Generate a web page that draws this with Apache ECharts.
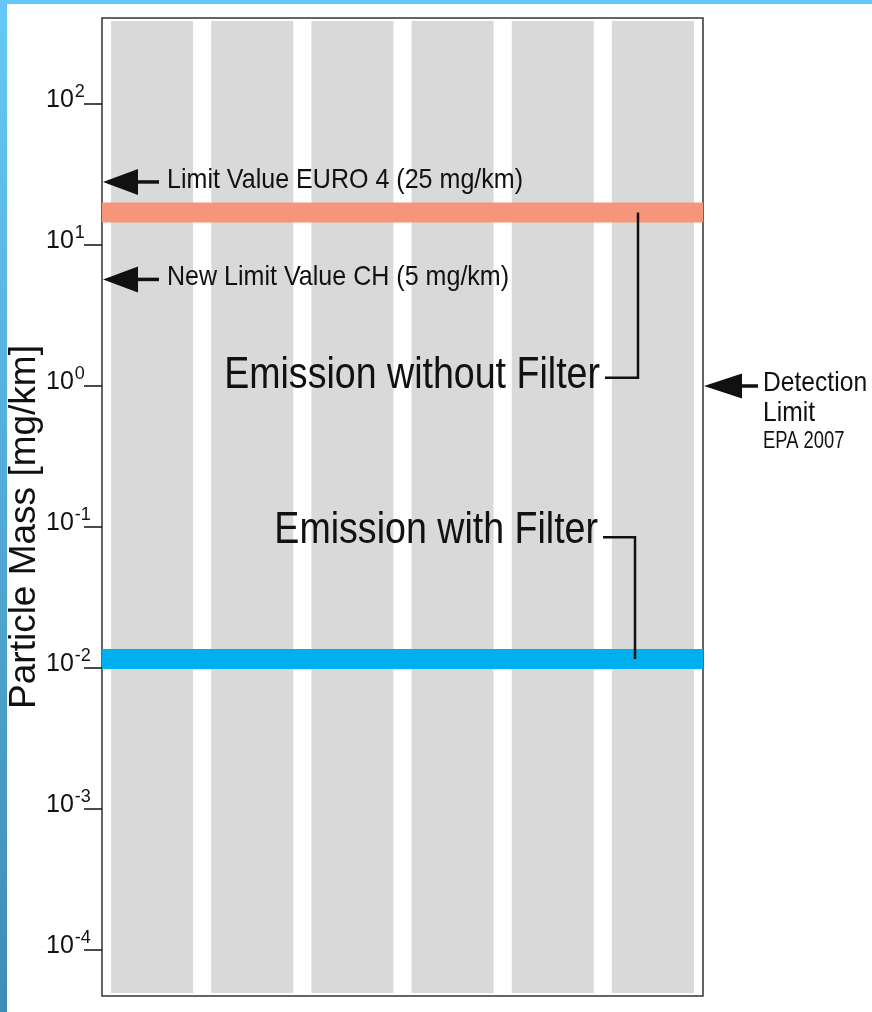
<!DOCTYPE html>
<html>
<head>
<meta charset="utf-8">
<title>Particle Mass</title>
<script src="https://cdn.jsdelivr.net/npm/echarts@6/dist/echarts.min.js"></script>
<style>
  html, body { margin: 0; padding: 0; background: #fff; }
  #wrap { position: relative; width: 872px; height: 1012px; overflow: hidden; }
  #topbar { position: absolute; left: 0; top: 0; width: 872px; height: 4px; background: #66c8f8; }
  #sidebar { position: absolute; left: 0; top: 0; width: 7px; height: 1012px; background: linear-gradient(#66c8f8, #3f8cb5); }
  #chart { position: absolute; left: 0; top: 0; width: 872px; height: 1012px; }
</style>
</head>
<body>
<div id="wrap">
  <div id="chart"></div>
  <div id="topbar"></div>
  <div id="sidebar"></div>
</div>
<script>
// columns (no labels in the original), each stripe spans the full height
const columns = ['1', '2', '3', '4', '5', '6']
const stripeHeight = [1, 1, 1, 1, 1, 1]

// emission levels, mg/km
const withoutFilter = [17, 17, 17, 17, 17, 17]
const withFilter = [0.0116, 0.0116, 0.0116, 0.0116, 0.0116, 0.0116]

// limit values marked with arrows, mg/km
const limitEuro4 = 28
const limitCH = 5.7
const detectionLimit = 1

// where the two emission captions sit, mg/km
const captionWithout = 1.18
const captionWith = 0.095

const tickMin = 1e-4
const tickMax = 1e2

const FONT = '"Liberation Sans", Arial, sans-serif'
const INK = '#111'

const chart = echarts.init(document.getElementById('chart'))

chart.setOption({
  backgroundColor: 'transparent',
  animation: false,
  grid: [
    { left: 102, right: 169, top: 18, bottom: 16, outerBoundsMode: 'none', show: true, borderColor: '#333', borderWidth: 1.5, backgroundColor: '#fff' },
    { left: 102, right: 169, top: 104, bottom: 62, outerBoundsMode: 'none' }
  ],
  xAxis: [
    { type: 'category', gridIndex: 0, data: columns, show: false },
    { type: 'category', gridIndex: 1, data: columns, show: false, boundaryGap: false }
  ],
  yAxis: [
    { type: 'value', gridIndex: 0, min: -0.003, max: 1.003, show: false },
    {
      type: 'log',
      gridIndex: 1,
      logBase: 10,
      min: tickMin,
      max: tickMax,
      splitNumber: 6,
      name: 'Particle Mass [mg/km]',
      nameLocation: 'middle',
      nameGap: 59,
      nameMoveOverlap: false,
      nameTextStyle: { fontFamily: FONT, fontSize: 37, color: INK },
      axisLine: { show: false },
      axisTick: { show: true, length: 18, lineStyle: { color: INK, width: 1.5 } },
      splitLine: { show: false },
      axisLabel: {
        margin: 56,
        align: 'left',
        formatter: function (v) {
          return '{b|10}{s|' + Math.round(Math.log10(v)) + '}'
        },
        rich: {
          b: { fontFamily: FONT, fontSize: 25, color: INK, verticalAlign: 'bottom', padding: [0, 0, 12, 0] },
          s: { fontFamily: FONT, fontSize: 18, color: INK, verticalAlign: 'bottom', padding: [0, 0, 23.5, 1] }
        }
      }
    }
  ],
  series: [
    {
      name: 'columns',
      type: 'bar',
      xAxisIndex: 0,
      yAxisIndex: 0,
      data: stripeHeight,
      barWidth: 82,
      itemStyle: { color: '#d9d9d9' },
      silent: true
    },
    {
      name: 'Emission without Filter',
      type: 'line',
      xAxisIndex: 1,
      yAxisIndex: 1,
      data: withoutFilter,
      showSymbol: false,
      lineStyle: { color: '#f5967a', width: 20, cap: 'butt' },
      z: 3
    },
    {
      name: 'Emission with Filter',
      type: 'line',
      xAxisIndex: 1,
      yAxisIndex: 1,
      data: withFilter,
      showSymbol: false,
      lineStyle: { color: '#00b0ee', width: 20, cap: 'butt' },
      z: 3
    }
  ]
})

// annotations, placed through the log axis
const yPix = v => chart.convertToPixel({ yAxisIndex: 1 }, v)

function label(x, y, text, size, squeeze, align) {
  return {
    type: 'text', x: x, y: y, scaleX: squeeze, z: 10,
    style: { text: text, font: size + 'px ' + FONT, fill: INK, align: align || 'left', verticalAlign: 'middle' }
  }
}

function leftArrow(v, text) {
  const y = yPix(v)
  return [
    { type: 'polygon', shape: { points: [[103, y], [138, y - 13], [138, y + 13]] }, style: { fill: INK }, z: 10 },
    { type: 'line', shape: { x1: 136, y1: y, x2: 159, y2: y }, style: { stroke: INK, lineWidth: 3.5 }, z: 10 },
    label(167, y - 2, text, 28, 0.895)
  ]
}

function rightArrow(v) {
  const y = yPix(v)
  return [
    { type: 'polygon', shape: { points: [[704, y], [742, y - 12.5], [742, y + 12.5]] }, style: { fill: INK }, z: 10 },
    { type: 'line', shape: { x1: 740, y1: y, x2: 758, y2: y }, style: { stroke: INK, lineWidth: 3.5 }, z: 10 },
    label(763, y - 3, 'Detection', 28, 0.88),
    label(763, y + 27, 'Limit', 28, 0.88),
    label(763, y + 56, 'EPA 2007', 23, 0.8)
  ]
}

function caption(labelV, bandV, text, xText, xLeader, dy) {
  const y = yPix(labelV)
  const yb = yPix(bandV)
  return [
    label(xText, y, text, 45, 0.835, 'right'),
    { type: 'polyline', shape: { points: [[xText + 5, y + dy], [xLeader, y + dy], [xLeader, yb]] }, style: { stroke: INK, lineWidth: 2.5, fill: null }, z: 10 }
  ]
}

chart.setOption({
  graphic: [].concat(
    leftArrow(limitEuro4, 'Limit Value EURO 4 (25 mg/km)'),
    leftArrow(limitCH, 'New Limit Value CH (5 mg/km)'),
    rightArrow(detectionLimit),
    caption(captionWithout, withoutFilter[5], 'Emission without Filter', 600, 638, 2),
    caption(captionWith, withFilter[5], 'Emission with Filter', 598, 635, 7)
  )
})
</script>
</body>
</html>
